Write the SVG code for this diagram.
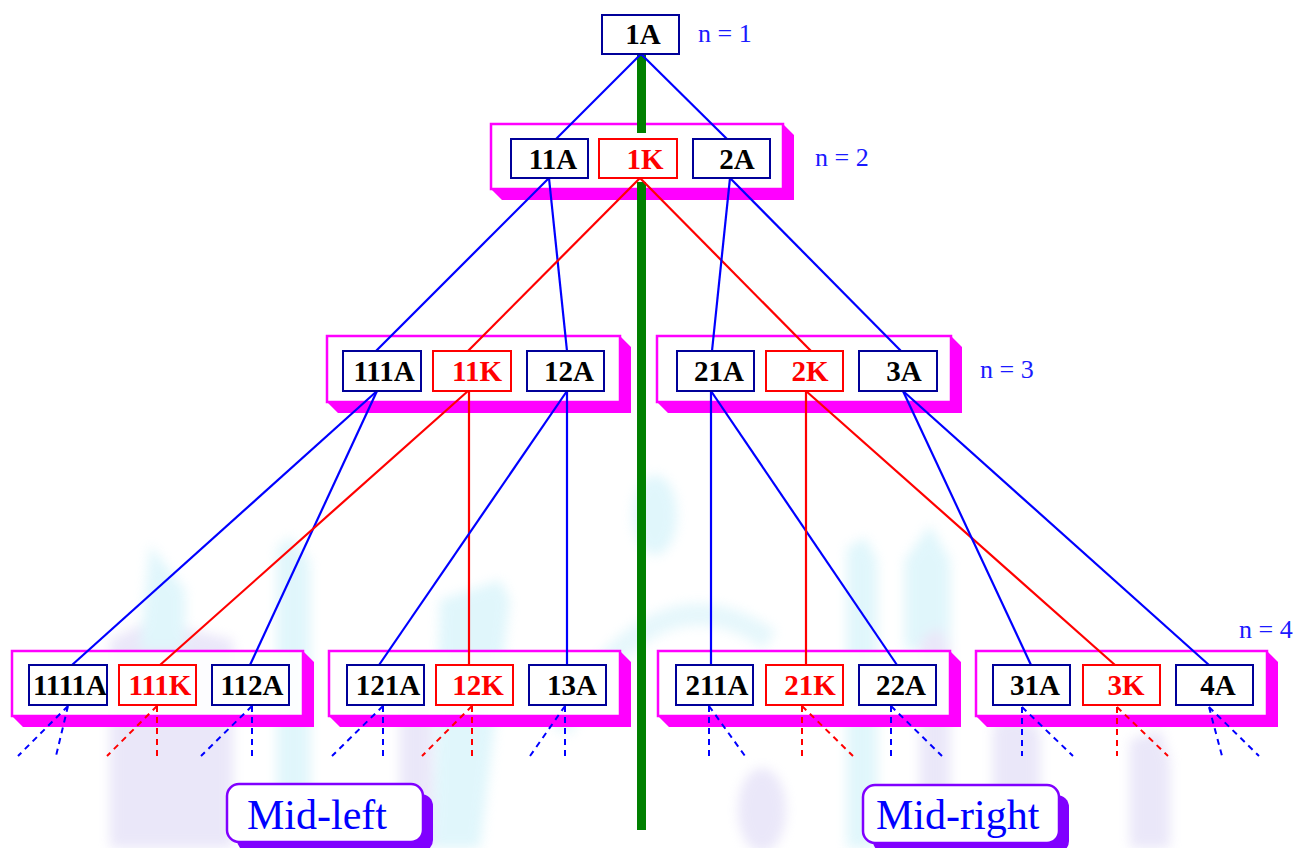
<svg xmlns="http://www.w3.org/2000/svg" width="1301" height="848" viewBox="0 0 1301 848">
<defs>
<style>
.frame{fill:#ffffff;fill-opacity:0.9;stroke:#ff00ff;stroke-width:2.5}
.ext{fill:#ff00ff}
.nb{fill:#ffffff;fill-opacity:0.9;stroke:#000099;stroke-width:2}
.nr{fill:#ffffff;fill-opacity:0.9;stroke:#ff0000;stroke-width:2}
.tb{font-family:"Liberation Serif","Times New Roman",serif;font-weight:bold;font-size:29px;fill:#000000;text-anchor:middle}
.tr{font-family:"Liberation Serif","Times New Roman",serif;font-weight:bold;font-size:29px;fill:#ff0000;text-anchor:middle}
.lvl{font-family:"Liberation Serif","Times New Roman",serif;font-size:26px;fill:#1a1aff}
.cb{stroke:#0000ff;stroke-width:2.2;fill:none}
.cr{stroke:#ff0000;stroke-width:2.2;fill:none}
.db{stroke:#0000ff;stroke-width:2;stroke-dasharray:6 5;fill:none}
.dr{stroke:#ff0000;stroke-width:2;stroke-dasharray:6 5;fill:none}
.lab{fill:#ffffff;stroke:#8000ff;stroke-width:2.5}
.labsh{fill:#8000ff}
.labt{font-family:"Liberation Serif","Times New Roman",serif;font-size:42px;fill:#0000ff}
.wc{fill:#a8e6f5}
.wl{fill:#c4bcee}
</style>
<filter id="blur" x="-50%" y="-50%" width="200%" height="200%"><feGaussianBlur stdDeviation="6"/></filter>
</defs>
<rect x="0" y="0" width="1301" height="848" fill="#ffffff"/>

<g id="watermark" opacity="0.35" filter="url(#blur)">
<polygon class="wl" points="110,640 150,620 233,640 233,848 110,848"/>
<polygon class="wc" points="140,650 150,545 185,590 185,650"/>
<polygon class="wc" points="277,548 290,537 310,560 310,848 277,848"/>
<polygon class="wl" points="400,690 420,680 433,700 433,848 400,848"/>
<polygon class="wc" points="440,600 500,580 510,600 480,848 433,848"/>
<ellipse class="wc" cx="655" cy="515" rx="22" ry="40"/>
<path d="M560,730 Q655,560 770,640" stroke="#b8e8f5" stroke-width="22" fill="none"/>
<ellipse class="wl" cx="762" cy="810" rx="24" ry="42"/>
<polygon class="wc" points="847,548 865,537 877,560 877,848 847,848"/>
<polygon class="wc" points="905,560 930,525 950,560 950,650 905,650"/>
<polygon class="wl" points="920,640 940,627 950,650 950,848 920,848"/>
<polygon class="wl" points="993,725 1015,713 1040,730 1040,848 993,848"/>
<polygon class="wl" points="1130,740 1160,730 1170,760 1170,848 1130,848"/>
</g>

<g id="level2">
<polygon class="ext" points="783,124 794,135 794,200 502,200 491,189 783,189"/>
<rect class="frame" x="491" y="124" width="292" height="65"/>
</g>
<g id="level3-left">
<polygon class="ext" points="620,336 631,347 631,413 338,413 327,402 620,402"/>
<rect class="frame" x="327" y="336" width="293" height="66"/>
</g>
<g id="level3-right">
<polygon class="ext" points="951,336 962,347 962,413 668,413 657,402 951,402"/>
<rect class="frame" x="657" y="336" width="294" height="66"/>
</g>
<g id="level4-g1">
<polygon class="ext" points="303,651 314,662 314,727 23,727 12,716 303,716"/>
<rect class="frame" x="12" y="651" width="291" height="65"/>
</g>
<g id="level4-g2">
<polygon class="ext" points="620,651 631,662 631,727 340,727 329,716 620,716"/>
<rect class="frame" x="329" y="651" width="291" height="65"/>
</g>
<g id="level4-g3">
<polygon class="ext" points="950,651 961,662 961,727 669,727 658,716 950,716"/>
<rect class="frame" x="658" y="651" width="292" height="65"/>
</g>
<g id="level4-g4">
<polygon class="ext" points="1267,651 1278,662 1278,727 987,727 976,716 1267,716"/>
<rect class="frame" x="976" y="651" width="291" height="65"/>
</g>

<g id="midline">
<rect x="637" y="54" width="9" height="79" fill="#008000"/>
<rect x="637" y="182" width="9" height="648" fill="#008000"/>
</g>

<g id="connectors">
<line class="cb" x1="641" y1="54" x2="556" y2="139"/>
<line class="cb" x1="641" y1="54" x2="727" y2="139"/>
<line class="cb" x1="549" y1="178" x2="376" y2="351"/>
<line class="cb" x1="549" y1="178" x2="567" y2="351"/>
<line class="cr" x1="640" y1="178" x2="468" y2="351"/>
<line class="cr" x1="640" y1="178" x2="811" y2="351"/>
<line class="cb" x1="730" y1="178" x2="712" y2="351"/>
<line class="cb" x1="730" y1="178" x2="901" y2="351"/>
<line class="cb" x1="377" y1="391" x2="72" y2="665"/>
<line class="cb" x1="377" y1="391" x2="250" y2="665"/>
<line class="cr" x1="468" y1="391" x2="160" y2="665"/>
<line class="cr" x1="469" y1="391" x2="469" y2="665"/>
<line class="cb" x1="567" y1="391" x2="379" y2="665"/>
<line class="cb" x1="567" y1="391" x2="567" y2="665"/>
<line class="cb" x1="711" y1="391" x2="711" y2="665"/>
<line class="cb" x1="711" y1="391" x2="897" y2="665"/>
<line class="cr" x1="806" y1="391" x2="806" y2="665"/>
<line class="cr" x1="806" y1="391" x2="1115" y2="665"/>
<line class="cb" x1="903" y1="391" x2="1031" y2="665"/>
<line class="cb" x1="903" y1="391" x2="1209" y2="665"/>
<g id="stubs">
<path class="db" d="M68,706 L18,756 M68,706 L56,756"/>
<path class="dr" d="M157,706 L107,756 M157,706 L157,756"/>
<path class="db" d="M252,706 L201,756 M252,706 L252,756"/>
<path class="db" d="M383,706 L332,756 M383,706 L383,756"/>
<path class="dr" d="M472,706 L422,756 M472,706 L472,756"/>
<path class="db" d="M565,706 L530,756 M565,706 L565,756"/>
<path class="db" d="M709,706 L709,756 M709,706 L745,756"/>
<path class="dr" d="M802,706 L802,756 M802,706 L853,756"/>
<path class="db" d="M891,706 L891,756 M891,706 L942,756"/>
<path class="db" d="M1022,707 L1022,756 M1022,707 L1073,756"/>
<path class="dr" d="M1117,707 L1117,756 M1117,707 L1168,756"/>
<path class="db" d="M1209,707 L1222,756 M1209,707 L1259,756"/>
</g>
</g>

<g id="n-1A"><rect class="nb" x="602" y="15" width="77" height="39"/><text class="tb" x="643" y="44">1A</text></g>

<g id="n-11A"><rect class="nb" x="511" y="139" width="77" height="39"/><text class="tb" x="553" y="169">11A</text></g>
<g id="n-1K"><rect class="nr" x="599" y="139" width="78" height="39"/><text class="tr" x="645" y="169">1K</text></g>
<g id="n-2A"><rect class="nb" x="693" y="139" width="77" height="39"/><text class="tb" x="737" y="169">2A</text></g>

<g id="n-111A"><rect class="nb" x="343" y="351" width="78" height="40"/><text class="tb" x="384" y="381">111A</text></g>
<g id="n-11K"><rect class="nr" x="433" y="351" width="78" height="40"/><text class="tr" x="477" y="381">11K</text></g>
<g id="n-12A"><rect class="nb" x="527" y="351" width="77" height="40"/><text class="tb" x="569" y="381">12A</text></g>
<g id="n-21A"><rect class="nb" x="677" y="351" width="77" height="40"/><text class="tb" x="719" y="381">21A</text></g>
<g id="n-2K"><rect class="nr" x="766" y="351" width="77" height="40"/><text class="tr" x="810" y="381">2K</text></g>
<g id="n-3A"><rect class="nb" x="859" y="351" width="78" height="40"/><text class="tb" x="904" y="381">3A</text></g>

<g id="n-1111A"><rect class="nb" x="29" y="665" width="78" height="40"/><text class="tb" x="70" y="695">1111A</text></g>
<g id="n-111K"><rect class="nr" x="119" y="665" width="77" height="40"/><text class="tr" x="160" y="695">111K</text></g>
<g id="n-112A"><rect class="nb" x="212" y="665" width="77" height="40"/><text class="tb" x="252" y="695">112A</text></g>
<g id="n-121A"><rect class="nb" x="347" y="665" width="77" height="40"/><text class="tb" x="388" y="695">121A</text></g>
<g id="n-12K"><rect class="nr" x="436" y="665" width="77" height="40"/><text class="tr" x="478" y="695">12K</text></g>
<g id="n-13A"><rect class="nb" x="529" y="665" width="77" height="40"/><text class="tb" x="572" y="695">13A</text></g>
<g id="n-211A"><rect class="nb" x="676" y="665" width="77" height="40"/><text class="tb" x="717" y="695">211A</text></g>
<g id="n-21K"><rect class="nr" x="766" y="665" width="77" height="40"/><text class="tr" x="810" y="695">21K</text></g>
<g id="n-22A"><rect class="nb" x="859" y="665" width="77" height="40"/><text class="tb" x="901" y="695">22A</text></g>
<g id="n-31A"><rect class="nb" x="993" y="665" width="77" height="40"/><text class="tb" x="1035" y="695">31A</text></g>
<g id="n-3K"><rect class="nr" x="1083" y="665" width="77" height="40"/><text class="tr" x="1126" y="695">3K</text></g>
<g id="n-4A"><rect class="nb" x="1176" y="665" width="77" height="40"/><text class="tb" x="1218" y="695">4A</text></g>

<g id="levels">
<text class="lvl" x="698" y="42">n = 1</text>
<text class="lvl" x="815" y="166">n = 2</text>
<text class="lvl" x="980" y="378">n = 3</text>
<text class="lvl" x="1239" y="638">n = 4</text>
</g>

<g id="mid-left">
<rect class="labsh" x="237" y="794" width="196" height="58" rx="12"/>
<rect class="lab" x="227" y="784" width="196" height="58" rx="12"/>
<text class="labt" x="247" y="829">Mid-left</text>
</g>
<g id="mid-right">
<rect class="labsh" x="873" y="795" width="196" height="58" rx="12"/>
<rect class="lab" x="863" y="785" width="196" height="58" rx="12"/>
<text class="labt" x="876" y="829">Mid-right</text>
</g>
</svg>
